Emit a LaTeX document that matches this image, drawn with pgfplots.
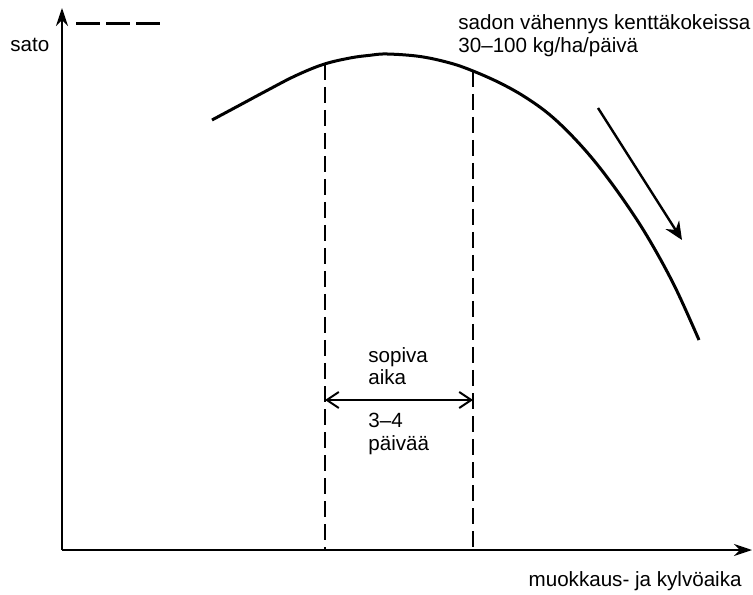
\documentclass[border=0pt]{standalone}
\usepackage{fontspec}
\setmainfont{Liberation Sans}
\usepackage{pgfplots}
\pgfplotsset{compat=1.18}
\usetikzlibrary{arrows.meta}
\begin{document}
\begin{tikzpicture}
\begin{axis}[
 scale only axis, width=345pt, height=271pt,
 xmin=62, xmax=752, ymin=44, ymax=586,
 axis lines=left,
 x axis line style={line width=1pt, -{Stealth[length=9pt,width=6pt]}},
 y axis line style={line width=1pt, -{Stealth[length=9pt,width=6pt]}},
 xtick=\empty, ytick=\empty, clip=false,
 font=\fontsize{10.3}{12}\selectfont,
]
\addplot[smooth, tension=0.6, line width=1.5pt, black] coordinates {
(212,474) (240,489) (267,503.5) (295,518) (323,529.5) (350,536) (370,538.7) (387,540)
(420,537.5) (450,531) (473,523) (500,511) (525,497) (550,479) (575,455) (600,426)
(627,389) (650,353) (675,307) (699,254)};
\addplot[line width=1pt, black, dash pattern=on 8pt off 3.5pt] coordinates {(325,530) (325,44)};
\addplot[line width=1pt, black, dash pattern=on 8pt off 3.5pt] coordinates {(473,523) (473,44)};
\addplot[line width=1.5pt, black, dash pattern=on 12pt off 3pt] coordinates {(76,570) (162,570)};
\addplot[line width=1pt, black, {Straight Barb[length=6pt,width=8pt,line width=1pt]}-{Straight Barb[length=6pt,width=8pt,line width=1pt]}] coordinates {(325,194) (473,194)};
\addplot[line width=1.2pt, black, -{Stealth[length=9pt,width=8pt,inset=3pt]}] coordinates {(598,486) (682,354)};
\node[anchor=base west, inner sep=0pt] at (axis cs:10,542) {sato};
\node[anchor=base west, inner sep=0pt] at (axis cs:458,564) {sadon vähennys kenttäkokeissa};
\node[anchor=base west, inner sep=0pt] at (axis cs:458,541) {30–100 kg/ha/päivä};
\node[anchor=base west, inner sep=0pt] at (axis cs:368,231) {sopiva};
\node[anchor=base west, inner sep=0pt] at (axis cs:368,209) {aika};
\node[anchor=base west, inner sep=0pt] at (axis cs:368,167) {3–4};
\node[anchor=base west, inner sep=0pt] at (axis cs:368,144) {päivää};
\node[anchor=base east, inner sep=0pt] at (axis cs:742,8) {muokkaus- ja kylvöaika};
\coordinate (bl) at (axis cs:0,0);
\coordinate (tr) at (axis cs:753,594);
\end{axis}
\pgfresetboundingbox
\path[use as bounding box] (bl) rectangle (tr);
\end{tikzpicture}
\end{document}
